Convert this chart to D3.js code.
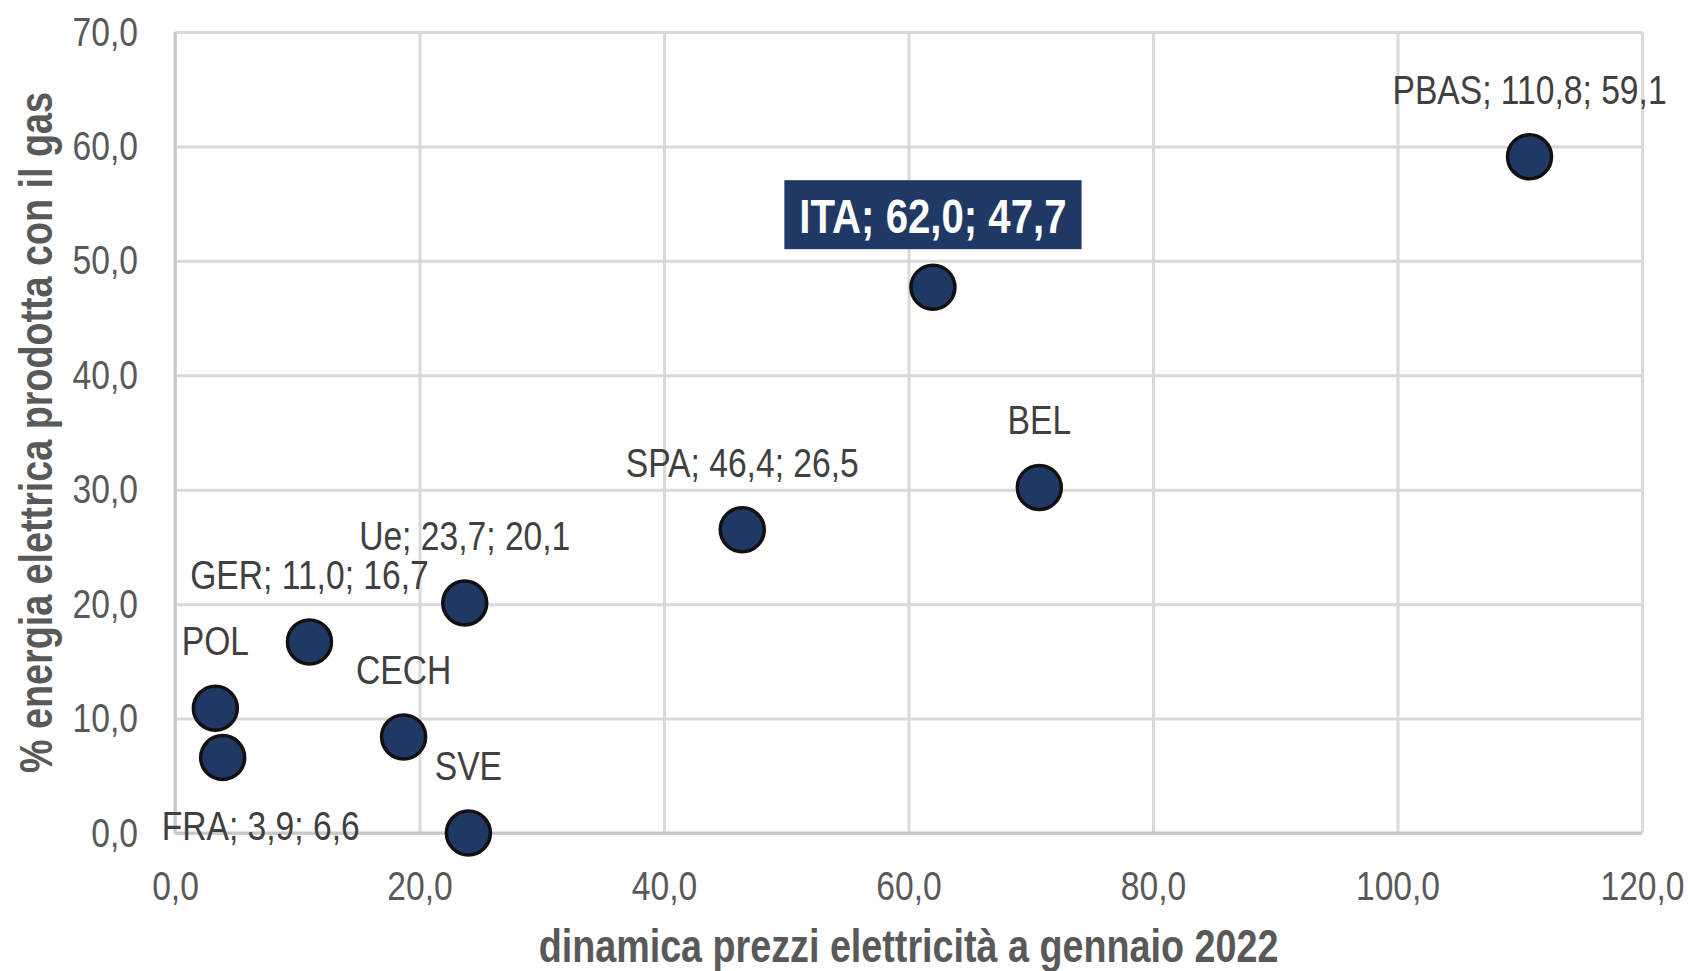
<!DOCTYPE html>
<html>
<head>
<meta charset="utf-8">
<script src="https://cdn.jsdelivr.net/npm/d3@7"></script>
<style>
  body { margin: 0; background: #fff; }
  svg { font-family: "Liberation Sans Narrow", "Arial Narrow", "Liberation Sans", Arial, sans-serif; }
</style>
</head>
<body>
<div id="vis"></div>
<script>
// chart data
const countries = ["FRA", "POL", "GER", "CECH", "Ue", "SVE", "SPA", "ITA", "BEL", "PBAS"];
const priceChange = [3.9, 3.3, 11.0, 18.7, 23.7, 24.0, 46.4, 62.0, 70.7, 110.8];
const gasShare = [6.6, 10.9, 16.7, 8.4, 20.1, 0.0, 26.5, 47.7, 30.2, 59.1];
const pointLabels = ["FRA; 3,9; 6,6", "POL", "GER; 11,0; 16,7", "CECH", "Ue; 23,7; 20,1",
                     "SVE", "SPA; 46,4; 26,5", "ITA; 62,0; 47,7", "BEL", "PBAS; 110,8; 59,1"];
const xTicks = [0, 20, 40, 60, 80, 100, 120];
const yTicks = [0, 10, 20, 30, 40, 50, 60, 70];
const xTitle = "dinamica prezzi elettricità a gennaio 2022";
const yTitle = "% energia elettrica prodotta con il gas";

const FRAME_WIDTH = 1690;
const FRAME_HEIGHT = 971;
const MARGINS = {left: 175, right: 48, top: 32, bottom: 138};
const VIS_WIDTH = FRAME_WIDTH - MARGINS.left - MARGINS.right;
const VIS_HEIGHT = FRAME_HEIGHT - MARGINS.top - MARGINS.bottom;
const NARROW = 0.82; // no Arial Narrow installed, squeeze the text instead

const it = d3.formatLocale({decimal: ",", thousands: ".", grouping: [3], currency: ["", "€"]});
const fmt = it.format(".1f");

// move x/y into a transform and squeeze horizontally
function condense(sel) {
  sel.each(function() {
    const t = d3.select(this);
    const x = +t.attr("x") || 0;
    const y = +t.attr("y") || 0;
    t.attr("x", 0).attr("y", 0)
     .attr("transform", "translate(" + x + "," + y + ") scale(" + NARROW + ",1)");
  });
}

const svg = d3.select("#vis")
  .append("svg")
    .attr("width", FRAME_WIDTH)
    .attr("height", FRAME_HEIGHT);

const X_SCALE = d3.scaleLinear().domain([0, 120]).range([0, VIS_WIDTH]);
const Y_SCALE = d3.scaleLinear().domain([0, 70]).range([VIS_HEIGHT, 0]);

const g = svg.append("g")
  .attr("transform", "translate(" + MARGINS.left + "," + MARGINS.top + ")");

// gridlines
g.append("g")
  .attr("transform", "translate(0," + VIS_HEIGHT + ")")
  .call(d3.axisBottom(X_SCALE).tickValues(xTicks).tickSize(-VIS_HEIGHT).tickFormat(""))
  .call(ax => ax.select(".domain").remove())
  .selectAll("line").attr("stroke", "#d9d9d9").attr("stroke-width", 3);

g.append("g")
  .call(d3.axisLeft(Y_SCALE).tickValues(yTicks).tickSize(-VIS_WIDTH).tickFormat(""))
  .call(ax => ax.select(".domain").remove())
  .selectAll("line").attr("stroke", "#d9d9d9").attr("stroke-width", 3);

// axis lines
g.append("line")
  .attr("x1", 0).attr("x2", 0).attr("y1", 0).attr("y2", VIS_HEIGHT)
  .attr("stroke", "#c8c8c8").attr("stroke-width", 3);
g.append("line")
  .attr("x1", 0).attr("x2", VIS_WIDTH).attr("y1", VIS_HEIGHT).attr("y2", VIS_HEIGHT)
  .attr("stroke", "#c8c8c8").attr("stroke-width", 3);

// tick labels
g.append("g")
  .attr("transform", "translate(0," + VIS_HEIGHT + ")")
  .call(d3.axisBottom(X_SCALE).tickValues(xTicks).tickSize(0).tickPadding(38).tickFormat(fmt))
  .call(ax => ax.select(".domain").remove())
  .attr("font-family", null)
  .attr("font-size", null)
  .selectAll("text")
    .attr("font-size", "41px")
    .attr("fill", "#595959")
    .call(condense);

g.append("g")
  .call(d3.axisLeft(Y_SCALE).tickValues(yTicks).tickSize(0).tickPadding(37).tickFormat(fmt))
  .call(ax => ax.select(".domain").remove())
  .attr("font-family", null)
  .attr("font-size", null)
  .selectAll("text")
    .attr("font-size", "41px")
    .attr("fill", "#595959")
    .call(condense);

// axis titles
svg.append("text")
  .attr("x", MARGINS.left + VIS_WIDTH / 2)
  .attr("y", 962)
  .attr("text-anchor", "middle")
  .attr("font-size", "46px")
  .attr("font-weight", "bold")
  .attr("fill", "#595959")
  .text(xTitle)
  .call(condense);

svg.append("text")
  .attr("transform", "translate(52," + (MARGINS.top + VIS_HEIGHT / 2) + ") rotate(-90) scale(" + NARROW + ",1)")
  .attr("text-anchor", "middle")
  .attr("font-size", "46px")
  .attr("font-weight", "bold")
  .attr("fill", "#595959")
  .text(yTitle);

// points
const rows = countries.map((c, i) => ({name: c, x: priceChange[i], y: gasShare[i], label: pointLabels[i]}));

g.selectAll("circle")
  .data(rows)
  .enter()
  .append("circle")
    .attr("cx", d => X_SCALE(d.x))
    .attr("cy", d => Y_SCALE(d.y))
    .attr("r", 22)
    .attr("fill", "#1f3864")
    .attr("stroke", "#111")
    .attr("stroke-width", 3.5);

// labels: above the point by default, FRA moved down-right
const labelShift = {FRA: {dx: 38, dy: 83}, ITA: {dx: 0, dy: -54}};

// highlight box behind ITA label
const itaRow = rows.find(d => d.name === "ITA");
const boxLayer = g.append("g");

const labels = g.selectAll(".lbl")
  .data(rows)
  .enter()
  .append("text")
    .attr("class", "lbl")
    .attr("x", d => X_SCALE(d.x) + (labelShift[d.name] ? labelShift[d.name].dx : 0))
    .attr("y", d => Y_SCALE(d.y) + (labelShift[d.name] ? labelShift[d.name].dy : -53))
    .attr("text-anchor", "middle")
    .attr("font-size", d => d.name === "ITA" ? "49px" : "41px")
    .attr("font-weight", d => d.name === "ITA" ? "bold" : "normal")
    .attr("fill", d => d.name === "ITA" ? "#fff" : "#404040")
    .text(d => d.label)
    .call(condense);

const itaWidth = labels.filter(d => d.name === "ITA").node().getBBox().width * NARROW;
boxLayer.append("rect")
  .attr("x", X_SCALE(itaRow.x) - itaWidth / 2 - 15)
  .attr("y", Y_SCALE(itaRow.y) - 107)
  .attr("width", itaWidth + 30)
  .attr("height", 69)
  .attr("fill", "#1f3864");
</script>
</body>
</html>
